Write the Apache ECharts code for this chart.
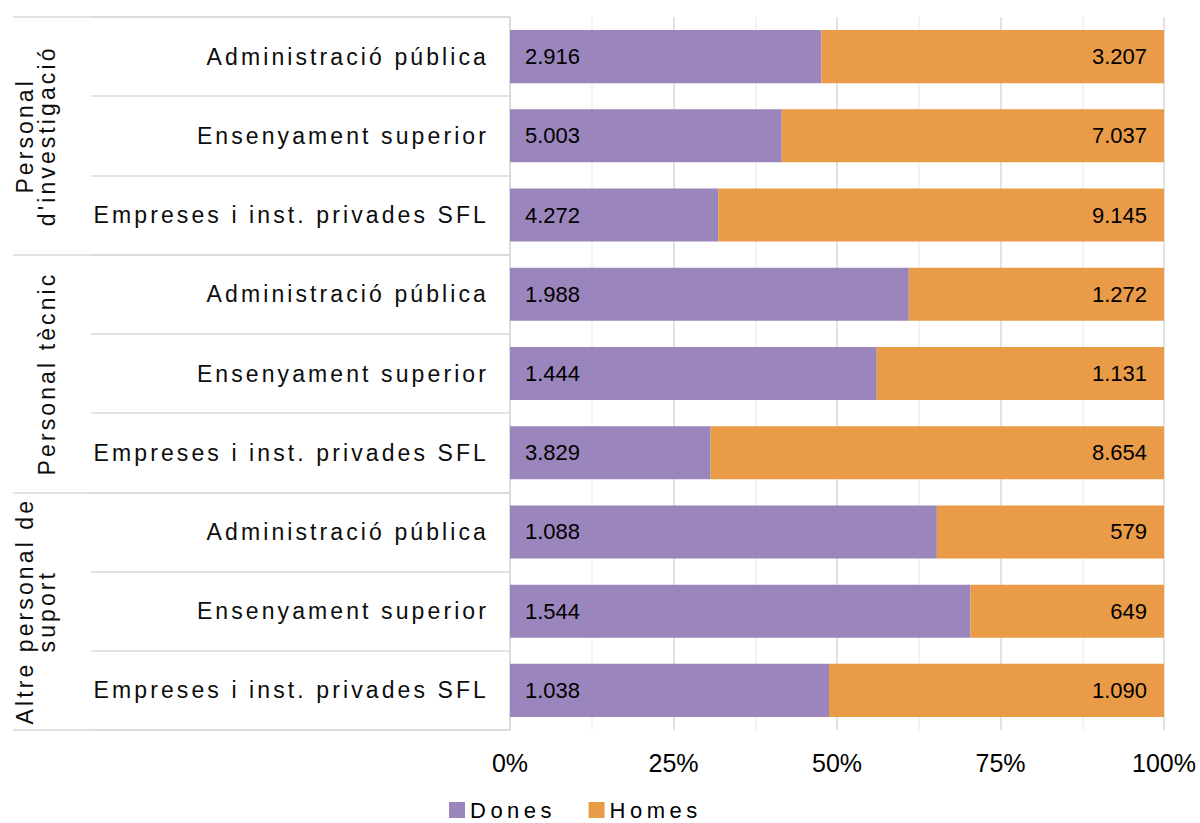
<!DOCTYPE html>
<html>
<head>
<meta charset="utf-8">
<script src="https://cdn.jsdelivr.net/npm/echarts@6/dist/echarts.min.js"></script>
<style>
  html, body { margin: 0; padding: 0; background: #fff; }
  #chart { width: 1200px; height: 823px; }
  #chart text[style*="spacecat"] { letter-spacing: 3.1px; }
  #chart text[style*="spaceleg"] { letter-spacing: 4.5px; }
</style>
</head>
<body>
<div id="chart"></div>
<script>
// ---- data ----
const categories = [
  'Administració pública', 'Ensenyament superior', 'Empreses i inst. privades SFL',
  'Administració pública', 'Ensenyament superior', 'Empreses i inst. privades SFL',
  'Administració pública', 'Ensenyament superior', 'Empreses i inst. privades SFL'
];
const groups = ['Personal\nd\'investigació', 'Personal tècnic', 'Altre personal de\nsuport'];
const dones = [2916, 5003, 4272, 1988, 1444, 3829, 1088, 1544, 1038];
const homes = [3207, 7037, 9145, 1272, 1131, 8654, 579, 649, 1090];
const seriesNames = ['Dones', 'Homes'];
const xTicks = [0, 25, 50, 75, 100];

// ---- helpers ----
const fmt = n => String(n).replace(/\B(?=(\d{3})+(?!\d))/g, '.');
const share = (a, b) => a.map((v, i) => v / (v + b[i]) * 100);
const donesPct = share(dones, homes);
const homesPct = share(homes, dones);

const FONT = 'Liberation Sans';
const FONT_CAT = 'Liberation Sans, spacecat';
const FONT_LEG = 'Liberation Sans, spaceleg';
const GRID_C = '#d9d9d9';

const chart = echarts.init(document.getElementById('chart'), null, { renderer: 'svg' });
chart.setOption({
  animation: false,
  backgroundColor: '#ffffff',
  color: ['#9a86bd', '#e99b48'],
  grid: { left: 510, right: 36, top: 17, bottom: 93, containLabel: false },
  legend: {
    data: seriesNames,
    left: 444, top: 794,
    itemWidth: 16, itemHeight: 16, itemGap: 55,
    icon: 'rect',
    textStyle: { fontFamily: FONT_LEG, fontSize: 22, lineHeight: 20, color: '#000' }
  },
  xAxis: {
    type: 'value', min: 0, max: 100, interval: 25,
    axisLine: { show: false }, axisTick: { show: false },
    axisLabel: { formatter: '{value}%', fontFamily: FONT, fontSize: 25, color: '#000', margin: 20,
      customValues: xTicks },
    splitLine: { show: true, lineStyle: { color: GRID_C, width: 1.5 } },
    minorTick: { show: false, splitNumber: 2 },
    minorSplitLine: { show: true, lineStyle: { color: '#efefef', width: 1.5 } }
  },
  yAxis: [
    {
      type: 'category', data: categories, inverse: true, position: 'left',
      axisLine: { show: true, lineStyle: { color: GRID_C, width: 1.5 } },
      axisTick: { show: true, length: 419, interval: 0, lineStyle: { color: GRID_C, width: 1.5 } },
      axisLabel: { fontFamily: FONT_CAT, fontSize: 23, color: '#0d0d0d', margin: 21, interval: 0 }
    },
    {
      type: 'category', data: groups, inverse: true, position: 'left', offset: 0,
      axisLine: { show: false },
      axisTick: { show: true, length: 497, interval: 0, lineStyle: { color: GRID_C, width: 1.5 } },
      axisLabel: { fontFamily: FONT_CAT, fontSize: 23, lineHeight: 22, color: '#0d0d0d',
        rotate: 90, margin: 452, interval: 0 }
    }
  ],
  series: [
    {
      name: seriesNames[0], type: 'bar', stack: 'total', yAxisIndex: 0, barWidth: '67%',
      data: donesPct,
      label: { show: true, position: 'insideLeft', distance: 15, fontFamily: FONT, fontSize: 22, color: '#000',
        formatter: p => fmt(dones[p.dataIndex]) }
    },
    {
      name: seriesNames[1], type: 'bar', stack: 'total', yAxisIndex: 0, barWidth: '67%',
      data: homesPct,
      label: { show: true, position: 'insideRight', distance: 17, fontFamily: FONT, fontSize: 22, color: '#000',
        formatter: p => fmt(homes[p.dataIndex]) }
    }
  ]
});
</script>
</body>
</html>
